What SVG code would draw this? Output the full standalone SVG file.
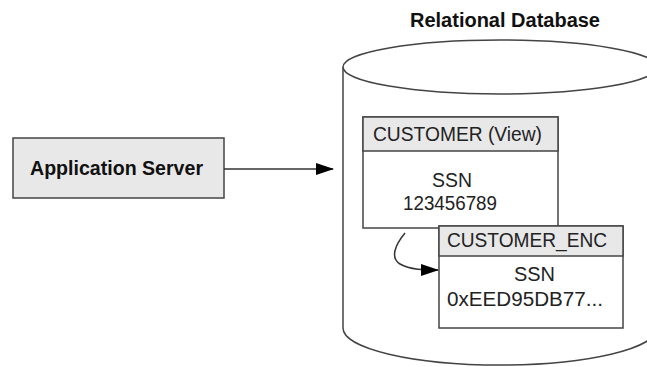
<svg xmlns="http://www.w3.org/2000/svg" width="647" height="367" viewBox="0 0 647 367">
<style>
.ln{fill:none;stroke:#333;stroke-width:1.5}
.bx{fill:#fff;stroke:#444;stroke-width:1.5}
.hd{fill:#e8e8e8;stroke:#444;stroke-width:1.5}
.b{font-family:"Liberation Sans",Arial,sans-serif;font-weight:bold;font-size:20px;fill:#111}
.t{font-family:"Liberation Sans",Arial,sans-serif;font-size:20px;fill:#222}
</style>
<defs>
<marker id="ah" markerWidth="18" markerHeight="12" refX="17" refY="6" orient="auto" markerUnits="userSpaceOnUse">
<path d="M0,0 L18,6 L0,12 Z" fill="#000"/>
</marker>
</defs>
<rect width="647" height="367" fill="#fff"/>
<g id="database">
<path class="bx" d="M343,67 L343,328 A157,37 0 0 0 657,328 L657,67"/>
<ellipse class="bx" cx="500" cy="67" rx="157" ry="27"/>
<text class="b" x="505" y="27" text-anchor="middle" textLength="190" lengthAdjust="spacingAndGlyphs">Relational Database</text>
</g>
<g id="app-server">
<rect class="hd" x="13" y="138" width="211" height="60"/>
<text class="b" x="116.5" y="175" text-anchor="middle" textLength="173" lengthAdjust="spacingAndGlyphs">Application Server</text>
</g>
<g id="customer-view">
<rect class="bx" x="363" y="117" width="195" height="111"/>
<rect class="hd" x="363" y="117" width="195" height="34"/>
<text class="t" x="373" y="141" textLength="169" lengthAdjust="spacingAndGlyphs">CUSTOMER (View)</text>
<text class="t" x="452" y="187" text-anchor="middle" textLength="40" lengthAdjust="spacingAndGlyphs">SSN</text>
<text class="t" x="450" y="210" text-anchor="middle" textLength="94" lengthAdjust="spacingAndGlyphs">123456789</text>
</g>
<g id="customer-enc">
<rect class="bx" x="439" y="226" width="184" height="102"/>
<rect class="hd" x="439" y="226" width="184" height="30"/>
<text class="t" x="447" y="247" textLength="160" lengthAdjust="spacingAndGlyphs">CUSTOMER_ENC</text>
<text class="t" x="534.5" y="281" text-anchor="middle" textLength="41" lengthAdjust="spacingAndGlyphs">SSN</text>
<text class="t" x="447" y="306" textLength="156" lengthAdjust="spacingAndGlyphs">0xEED95DB77...</text>
</g>
<g id="connectors">
<line class="ln" x1="224" y1="169" x2="333" y2="169" marker-end="url(#ah)"/>
<path class="ln" d="M405,233 C395,245 390,258 400,264 C410,270 425,270 438,270" marker-end="url(#ah)"/>
</g>
</svg>
